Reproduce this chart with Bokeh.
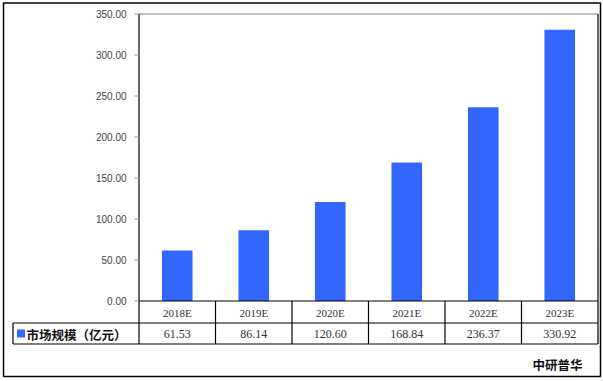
from bokeh.plotting import figure
from bokeh.models import Range1d
from bokeh.core.properties import value
from bokeh.embed import file_html
from bokeh.resources import INLINE
import numpy as np

categories = ["2018E", "2019E", "2020E", "2021E", "2022E", "2023E"]
market_size = [61.53, 86.14, 120.60, 168.84, 236.37, 330.92]
value_labels = ["61.53", "86.14", "120.60", "168.84", "236.37", "330.92"]
y_ticks = [0, 50, 100, 150, 200, 250, 300, 350]
series_name = "市场规模（亿元）"
source_name = "中研普华"

W, H = 603, 381
PL, PR, PT, PB = 138.5, 597.5, 13.5, 300.5
YMAX = 350.0
BAR_COLOR = "#3366FF"
n = len(categories)

# ranges: pixel space (top-down) plus value / category scales
vspan = (PB - PT) / YMAX
val_range = Range1d(start=(PB - H) / vspan, end=PB / vspan)
cspan = (PR - PL) / n
cat_range = Range1d(start=-PL / cspan, end=(W - PL) / cspan)

p = figure(width=W, height=H, x_range=Range1d(0, W), y_range=Range1d(H, 0),
           min_border=0, toolbar_location=None, output_backend="svg",
           x_axis_location=None, y_axis_location=None)
p.extra_y_ranges = {"val": val_range}
p.extra_x_ranges = {"cat": cat_range}
p.grid.visible = False
p.outline_line_color = None
p.background_fill_color = "white"
p.border_fill_color = "white"

idx = np.arange(n) + 0.5

# bars
p.vbar(x=idx, top=market_size, bottom=0, width=0.4, fill_color=BAR_COLOR,
       line_color=None, x_range_name="cat", y_range_name="val")

# plot area frame
p.segment(x0=[PL], y0=[PT], x1=[PR], y1=[PT], line_color="#808080", line_width=1.2)
p.segment(x0=[PL], y0=[PT], x1=[PL], y1=[343.5], line_color="black", line_width=1.2)
p.segment(x0=[PR], y0=[PT], x1=[PR], y1=[343.5], line_color="black", line_width=1.2)

# y ticks and labels
p.segment(x0=[134] * len(y_ticks), x1=[PL] * len(y_ticks), y0=y_ticks, y1=y_ticks,
          line_color="#999999", line_width=1, y_range_name="val")
p.text(x=[126] * len(y_ticks), y=y_ticks, text=[f"{t:.2f}" for t in y_ticks],
       y_range_name="val", text_align="right", text_baseline="middle",
       text_font=value("Liberation Sans"), text_font_size="10px", text_color="#444444")

# table lines
p.segment(x0=[PL, 12.5, 12.5], x1=[PR, PR, PR], y0=[PB, 322.5, 343.5], y1=[PB, 322.5, 343.5],
          line_color="black", line_width=1.2)
p.segment(x0=[12.5], x1=[12.5], y0=[322.5], y1=[343.5], line_color="black", line_width=1.2)
bounds = np.arange(1, n)
p.segment(x0=bounds, x1=bounds, y0=[PB] * len(bounds), y1=[343.5] * len(bounds),
          line_color="black", line_width=1.2, x_range_name="cat")

# table text
p.text(x=idx, y=[312] * n, text=categories, x_range_name="cat",
       text_align="center", text_baseline="middle",
       text_font=value("Liberation Serif"), text_font_size="11px", text_color="#333333")
p.text(x=idx, y=[333.5] * n, text=value_labels, x_range_name="cat",
       text_align="center", text_baseline="middle",
       text_font=value("Liberation Serif"), text_font_size="12px", text_color="#333333")

# legend key + series name
p.rect(x=[20.5], y=[333], width=8, height=8, fill_color=BAR_COLOR, line_color=None)
p.text(x=[26], y=[333.5], text=[series_name], text_align="left", text_baseline="middle",
       text_font=value("Noto Sans CJK SC"), text_font_style="bold",
       text_font_size="12.5px", text_color="#111111")

# source
p.text(x=[557], y=[364], text=[source_name], text_align="center", text_baseline="middle",
       text_font=value("Noto Sans CJK SC"), text_font_style="bold",
       text_font_size="12.5px", text_color="#111111")

# outer border
p.quad(left=[3], right=[600], top=[2.5], bottom=[376], fill_color=None,
       line_color="black", line_width=1.5)

open("out.html", "w").write(file_html(p, INLINE))
